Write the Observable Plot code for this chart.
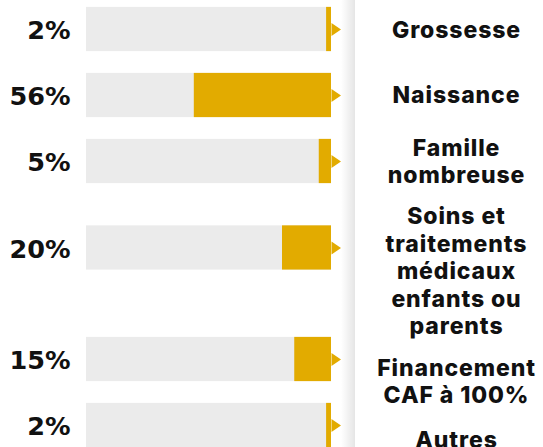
<!DOCTYPE html>
<html>
<head>
<meta charset="utf-8">
<script src="https://cdn.jsdelivr.net/npm/d3@7"></script>
<script src="https://cdn.jsdelivr.net/npm/@observablehq/plot@0.6"></script>
<style>
  html, body { margin: 0; padding: 0; background: #fff; }
  #wrap { position: relative; width: 543px; height: 447px; overflow: hidden; }
  #wrap::after {
    content: ""; position: absolute; top: 0; bottom: 0; left: 341px; width: 14px;
    background: linear-gradient(to right, rgba(0,0,0,0), rgba(0,0,0,0.10));
    pointer-events: none;
  }
  svg { display: block; }
  .cat-label text { letter-spacing: 0.9px; }
</style>
</head>
<body>
<div id="wrap"></div>
<script>
// ---- data ----
const categories = ["Grossesse", "Naissance", "Famille nombreuse",
  "Soins et traitements médicaux enfants ou parents", "Financement CAF à 100%", "Autres"];
const labelText = ["Grossesse", "Naissance", "Famille\nnombreuse",
  "Soins et\ntraitements\nmédicaux\nenfants ou\nparents", "Financement\nCAF à 100%", "Autres"];
const values = [2, 56, 5, 20, 15, 2];
const pctLabels = ["2%", "56%", "5%", "20%", "15%", "2%"];

// ---- layout (row slots in row units) ----
const barRow = [0, 1, 2, 3.31, 5, 6];
const labelRow = [0, 0.985, 1.985, 3.65, 5.32, 6.2];
const half = 0.335;

const rows = categories.map((c, i) => ({
  cat: c, label: labelText[i], value: values[i], pct: pctLabels[i],
  y: barRow[i], ly: labelRow[i]
}));

const gold = "#e2ab00";
const grey = "#ebebeb";

const tri = {
  draw(ctx) {
    ctx.moveTo(0, -6.5);
    ctx.lineTo(9.5, 0);
    ctx.lineTo(0, 6.5);
    ctx.closePath();
  }
};

const chart = Plot.plot({
  width: 543,
  height: 447,
  marginLeft: 86,
  marginRight: 212,
  marginTop: 29,
  marginBottom: 22,
  x: { domain: [0, 100], axis: null },
  y: { domain: [0, 6], reverse: true, axis: null },
  marks: [
    Plot.rect(rows, { x1: () => 0, x2: () => 100, y1: d => d.y - half, y2: d => d.y + half, fill: grey }),
    Plot.rect(rows, { x1: d => 100 - d.value, x2: () => 100, y1: d => d.y - half, y2: d => d.y + half, fill: gold }),
    Plot.dot(rows, { x: () => 100, y: "y", symbol: tri, fill: gold, stroke: null, r: 5 }),
    Plot.text(rows, { x: () => 0, y: "y", text: "pct", textAnchor: "end", dx: -16, dy: 1.5,
      fontFamily: "DejaVu Sans, sans-serif", fontWeight: 700, fontSize: 25.5, fill: "#111" }),
    Plot.text(rows, { x: () => 100, y: "ly", text: "label", textAnchor: "middle", dx: 125,
      lineHeight: 1.2, fontFamily: "Inter, sans-serif", fontWeight: 800, fontSize: 23, fill: "#111",
      className: "cat-label" })
  ]
});
chart.style.overflow = "visible";
document.getElementById("wrap").appendChild(chart);
</script>
</body>
</html>
